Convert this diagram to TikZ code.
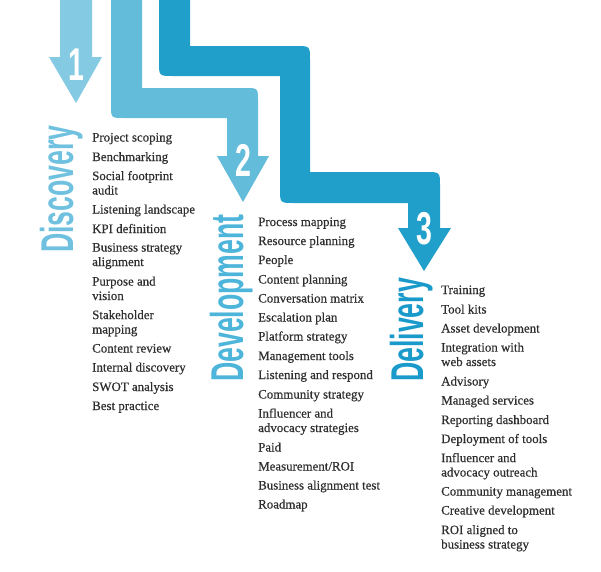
\documentclass[tikz,border=0pt]{standalone}
\usepackage{fontspec}
\setmainfont{Liberation Serif}
\newfontface\itemfont{Liberation Serif}[FakeBold=0.5]
\newfontfamily\condfont{Liberation Sans}
\definecolor{aone}{HTML}{85CAE3}
\definecolor{atwo}{HTML}{63BCD9}
\definecolor{athree}{HTML}{1F9FCA}
\definecolor{tone}{HTML}{6FC1DF}
\definecolor{ttwo}{HTML}{4DB4DA}
\definecolor{tthree}{HTML}{1A9ACA}
\definecolor{itemgray}{HTML}{2E2E2E}
\tikzset{
  itemtext/.style={anchor=base west, inner sep=0pt, align=left, text=itemgray,
    font=\itemfont\fontsize{12.9}{14.4}\selectfont},
  phasetitle/.style={anchor=base west, inner sep=0pt, rotate=90,
    font=\condfont\bfseries\fontsize{46}{46}\selectfont},
  numlabel/.style={inner sep=0pt, text=white,
    font=\condfont\bfseries\fontsize{46}{46}\selectfont}
}
\begin{document}
\begin{tikzpicture}[x=1pt,y=-1pt]
\useasboundingbox (0,0) rectangle (601,571);
% arrow 1
\fill[aone] (60,0) -- (92,0) -- (92,57) -- (102,57) -- (76,103) -- (49,57) -- (60,57) -- cycle;
% arrow 2
\fill[atwo] (111,0) -- (142,0) -- (142,88) -- (245,88) .. controls (258,88) .. (258,101)
  -- (258,156) -- (269,156) -- (243,202) -- (217,156) -- (227,156) -- (227,118)
  -- (124,118) .. controls (111,118) .. (111,105) -- cycle;
% arrow 3
\fill[athree] (159,0) -- (190,0) -- (190,46) -- (296,46) .. controls (310,46) .. (310,60)
  -- (310,172) -- (426,172) .. controls (440,172) .. (440,186)
  -- (440,228) -- (451,228) -- (424,271) -- (398,228) -- (408,228) -- (408,203)
  -- (294,203) .. controls (280,203) .. (280,189) -- (280,76)
  -- (173,76) .. controls (159,76) .. (159,62) -- cycle;
% numbers
\node[numlabel] (n1) at (76,65) {\scalebox{0.62}[1]{1}};
\node[numlabel] (n2) at (243,160) {\scalebox{0.62}[1]{2}};
\node[numlabel] (n3) at (424,229) {\scalebox{0.62}[1]{3}};
% titles
\node[phasetitle, text=tone] (t1) at (73,253) {\scalebox{0.58}[1]{Discovery}};
\node[phasetitle, text=ttwo] (t2) at (243,382) {\scalebox{0.58}[1]{Development}};
\node[phasetitle, text=tthree] (t3) at (423,382) {\scalebox{0.58}[1]{Delivery}};
% discovery items (base = baseline of the last line)
\foreach \yy/\txt [count=\i] in {
  141.5/{Project scoping}, 161/{Benchmarking}, 194.5/{Social footprint\\audit},
  213.5/{Listening landscape}, 233/{KPI definition}, 266/{Business strategy\\alignment},
  300/{Purpose and\\vision}, 333.5/{Stakeholder\\mapping}, 352.5/{Content review},
  371.5/{Internal discovery}, 391/{SWOT analysis}, 410/{Best practice}}
  \node[itemtext] (d\i) at (92,\yy) {\txt};
% development items
\foreach \yy/\txt [count=\i] in {
  226/{Process mapping}, 245/{Resource planning}, 264/{People}, 283.5/{Content planning},
  302.5/{Conversation matrix}, 321.5/{Escalation plan}, 340.5/{Platform strategy},
  360/{Management tools}, 379/{Listening and respond}, 398.5/{Community strategy},
  432/{Influencer and\\advocacy strategies}, 451.5/{Paid}, 470.5/{Measurement/ROI},
  489.5/{Business alignment test}, 508.5/{Roadmap}}
  \node[itemtext] (v\i) at (258,\yy) {\txt};
% delivery items
\foreach \yy/\txt [count=\i] in {
  294/{Training}, 313.5/{Tool kits}, 332.5/{Asset development},
  366/{Integration with\\web assets}, 385.5/{Advisory}, 404.5/{Managed services},
  424/{Reporting dashboard}, 443/{Deployment of tools},
  476.5/{Influencer and\\advocacy outreach}, 495.5/{Community management},
  514.5/{Creative development}, 548.5/{ROI aligned to\\business strategy}}
  \node[itemtext] (l\i) at (441,\yy) {\txt};
\end{tikzpicture}
\end{document}
